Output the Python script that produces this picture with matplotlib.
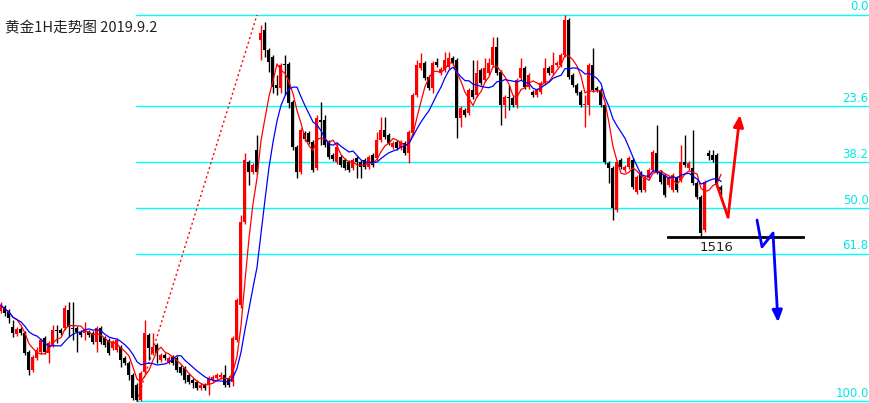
import matplotlib.pyplot as plt
import numpy as np
import pandas as pd

plt.rcParams['font.family'] = ['Noto Sans CJK SC', 'DejaVu Sans']

# -------------------------
# Dados (1H, ouro)
# -------------------------
opens = [1503.6, 1504.3, 1503.4, 1500.8, 1499.6, 1500.4, 1499.7, 1496.4, 1493.3, 1495.4,
         1496.4, 1498.9, 1496.2, 1497.6, 1500.3, 1500.3, 1500.6, 1503.8, 1500.6, 1500.6,
         1499.9, 1499.7, 1499.9, 1499.7, 1498.2, 1500.6, 1498.9, 1498.5, 1497.1, 1496.8,
         1497.3, 1495.4, 1494.5, 1492.4, 1490.6, 1488.0, 1492.9, 1499.4, 1496.2, 1497.6,
         1495.0, 1495.9, 1494.7, 1495.5, 1495.4, 1493.8, 1493.6, 1492.4, 1491.5, 1491.2,
         1490.1, 1490.6, 1490.6, 1491.5, 1491.9, 1492.0, 1492.4, 1491.9, 1491.2, 1498.5,
         1504.6, 1519.2, 1529.7, 1527.9, 1531.8, 1551.0, 1552.8, 1549.3, 1548.0, 1543.1,
         1542.6, 1546.8, 1546.8, 1540.2, 1532.3, 1527.9, 1534.7, 1534.7, 1533.2, 1528.6,
         1537.0, 1537.0, 1533.2, 1530.9, 1529.7, 1530.5, 1530.0, 1529.7, 1528.6, 1530.4,
         1529.7, 1530.0, 1528.8, 1530.9, 1530.4, 1533.5, 1535.3, 1534.4, 1532.3, 1533.2,
         1532.1, 1533.0, 1531.2, 1534.7, 1541.4, 1546.1, 1547.0, 1544.5, 1542.6, 1547.2,
         1545.2, 1545.8, 1546.3, 1547.9, 1547.5, 1537.4, 1538.8, 1538.2, 1542.3, 1541.4,
         1545.8, 1544.0, 1545.2, 1546.6, 1549.8, 1545.4, 1539.6, 1541.0, 1540.9, 1539.6,
         1544.4, 1546.1, 1542.8, 1541.9, 1541.4, 1541.9, 1543.5, 1546.1, 1545.2, 1546.6,
         1546.6, 1548.4, 1554.5, 1544.9, 1543.1, 1541.9, 1539.6, 1539.6, 1546.6, 1542.6,
         1542.3, 1539.6, 1529.5, 1528.6, 1521.3, 1530.0, 1528.3, 1528.8, 1530.0, 1524.4,
         1527.7, 1524.8, 1526.9, 1528.3, 1531.2, 1527.9, 1527.4, 1525.6, 1524.8, 1526.9,
         1526.5, 1529.7, 1528.6, 1528.6, 1526.0, 1523.5, 1517.8, 1531.2, 1530.9, 1530.9,
         1525.3]
closes = [1504.6, 1503.2, 1502.4, 1499.7, 1500.4, 1499.7, 1496.2, 1493.3, 1495.5, 1496.8,
          1498.5, 1496.4, 1498.0, 1500.3, 1500.1, 1499.7, 1504.1, 1500.8, 1500.4, 1499.9,
          1499.4, 1500.3, 1499.4, 1498.2, 1500.6, 1498.2, 1497.6, 1496.2, 1498.2, 1498.5,
          1495.0, 1494.5, 1492.4, 1488.4, 1488.0, 1492.7, 1499.7, 1497.1, 1497.3, 1496.2,
          1495.9, 1495.4, 1495.4, 1494.5, 1493.3, 1492.7, 1491.5, 1491.2, 1491.0, 1490.1,
          1490.6, 1490.1, 1491.9, 1492.0, 1492.4, 1492.4, 1490.6, 1490.6, 1498.9, 1505.5,
          1519.2, 1530.0, 1527.9, 1529.1, 1527.9, 1552.2, 1549.3, 1547.2, 1542.8, 1542.6,
          1546.6, 1546.6, 1540.0, 1532.3, 1527.9, 1535.3, 1533.7, 1533.2, 1528.3, 1537.4,
          1536.7, 1532.6, 1530.5, 1530.2, 1532.3, 1529.1, 1528.6, 1528.3, 1530.0, 1529.7,
          1528.8, 1528.8, 1530.5, 1529.1, 1533.5, 1535.3, 1534.0, 1533.0, 1533.0, 1532.1,
          1533.2, 1531.2, 1534.9, 1541.4, 1546.6, 1547.0, 1544.4, 1542.6, 1547.0, 1546.6,
          1545.9, 1547.5, 1547.9, 1547.0, 1537.4, 1539.1, 1537.9, 1542.3, 1541.0, 1545.2,
          1543.5, 1546.1, 1547.0, 1549.8, 1545.2, 1539.6, 1541.0, 1540.9, 1539.6, 1544.0,
          1546.1, 1542.8, 1544.9, 1541.4, 1542.3, 1543.5, 1546.1, 1545.2, 1546.6, 1547.0,
          1548.4, 1554.5, 1544.5, 1543.1, 1541.7, 1539.6, 1539.8, 1546.6, 1542.3, 1542.3,
          1539.6, 1529.7, 1528.6, 1521.6, 1529.7, 1528.8, 1528.8, 1530.4, 1525.3, 1527.0,
          1524.8, 1526.9, 1528.3, 1531.4, 1527.9, 1526.2, 1523.9, 1526.9, 1527.4, 1524.8,
          1529.7, 1529.1, 1529.5, 1526.0, 1523.5, 1517.2, 1526.2, 1530.7, 1530.0, 1525.6,
          1524.8]
highs = [1505.2, 1504.6, 1503.9, 1502.0, 1500.8, 1500.8, 1500.1, 1496.8, 1495.9, 1497.3,
         1498.9, 1499.2, 1498.3, 1501.1, 1501.1, 1500.6, 1504.6, 1505.2, 1505.2, 1501.0,
         1500.3, 1501.7, 1500.3, 1500.1, 1501.0, 1501.0, 1499.2, 1498.9, 1498.5, 1498.9,
         1497.6, 1495.7, 1494.8, 1492.7, 1491.0, 1493.1, 1502.0, 1499.7, 1499.7, 1498.0,
         1496.2, 1496.2, 1495.7, 1495.9, 1495.7, 1494.1, 1494.0, 1492.7, 1491.9, 1491.5,
         1491.0, 1491.0, 1492.2, 1492.4, 1492.7, 1492.9, 1494.1, 1492.2, 1499.2, 1505.9,
         1520.4, 1531.2, 1530.0, 1529.5, 1534.4, 1553.6, 1554.2, 1549.6, 1548.4, 1544.9,
         1547.0, 1548.4, 1547.2, 1540.5, 1532.6, 1535.6, 1535.1, 1535.1, 1533.5, 1537.9,
         1540.2, 1537.9, 1533.5, 1531.2, 1533.0, 1530.9, 1530.4, 1530.0, 1530.4, 1530.7,
         1530.0, 1530.4, 1530.9, 1531.2, 1534.9, 1537.5, 1537.5, 1534.7, 1533.3, 1533.5,
         1533.5, 1533.3, 1535.3, 1541.7, 1547.5, 1548.7, 1547.3, 1544.9, 1547.3, 1547.9,
         1546.3, 1548.9, 1548.9, 1548.2, 1547.9, 1539.5, 1539.1, 1542.6, 1547.5, 1547.5,
         1546.1, 1547.9, 1547.9, 1551.5, 1551.5, 1545.8, 1541.4, 1543.1, 1541.2, 1544.4,
         1547.9, 1546.5, 1545.2, 1542.3, 1542.6, 1543.8, 1547.9, 1546.5, 1548.9, 1547.3,
         1548.7, 1555.4, 1554.9, 1545.2, 1543.5, 1542.3, 1541.4, 1547.0, 1549.6, 1543.0,
         1542.6, 1540.0, 1529.8, 1529.0, 1530.0, 1530.4, 1529.1, 1530.7, 1530.4, 1527.4,
         1528.1, 1527.2, 1528.6, 1531.8, 1536.1, 1528.3, 1527.7, 1527.2, 1527.7, 1527.2,
         1532.6, 1534.4, 1529.8, 1535.3, 1526.3, 1523.9, 1526.5, 1531.8, 1531.8, 1531.2,
         1525.6]
lows = [1503.2, 1502.7, 1501.5, 1499.0, 1499.2, 1499.4, 1495.9, 1492.4, 1492.9, 1495.0,
        1496.1, 1496.1, 1494.5, 1497.3, 1498.0, 1499.4, 1500.3, 1499.0, 1498.5, 1496.4,
        1499.0, 1498.5, 1499.0, 1497.8, 1496.4, 1497.8, 1497.3, 1495.9, 1496.8, 1496.4,
        1493.8, 1494.1, 1491.5, 1488.0, 1487.8, 1487.8, 1492.6, 1495.0, 1495.9, 1494.5,
        1494.7, 1495.0, 1494.3, 1494.1, 1492.9, 1492.4, 1491.0, 1490.8, 1490.1, 1489.8,
        1489.8, 1489.8, 1488.9, 1491.2, 1491.5, 1491.7, 1490.3, 1490.3, 1490.5, 1498.2,
        1504.1, 1518.8, 1525.6, 1527.6, 1527.6, 1547.5, 1548.0, 1545.4, 1541.7, 1541.4,
        1541.7, 1541.4, 1539.1, 1531.8, 1526.9, 1527.6, 1533.3, 1532.8, 1527.9, 1528.3,
        1532.6, 1532.3, 1530.2, 1529.8, 1529.3, 1528.8, 1528.3, 1527.9, 1528.3, 1526.9,
        1526.9, 1528.4, 1528.4, 1528.8, 1530.0, 1533.2, 1533.7, 1532.6, 1531.9, 1531.8,
        1531.8, 1530.9, 1529.5, 1534.4, 1541.0, 1545.8, 1544.0, 1542.3, 1541.7, 1546.3,
        1544.9, 1545.4, 1545.9, 1546.6, 1533.9, 1535.8, 1537.5, 1537.9, 1540.7, 1541.0,
        1543.1, 1543.7, 1544.9, 1546.3, 1544.9, 1536.1, 1537.4, 1538.8, 1539.3, 1539.1,
        1544.0, 1542.4, 1542.4, 1541.0, 1541.0, 1541.6, 1543.1, 1544.9, 1544.9, 1546.3,
        1546.3, 1548.0, 1544.2, 1542.8, 1541.4, 1539.3, 1535.8, 1537.9, 1541.9, 1541.9,
        1539.3, 1529.3, 1526.0, 1519.5, 1520.9, 1528.4, 1527.9, 1528.4, 1524.9, 1524.1,
        1524.4, 1524.4, 1526.5, 1527.9, 1527.6, 1525.8, 1523.5, 1525.3, 1524.4, 1524.4,
        1526.2, 1528.8, 1528.3, 1525.6, 1523.2, 1516.5, 1517.4, 1530.0, 1529.7, 1525.3,
        1523.9]

fib_pcts = [0.0, 23.6, 38.2, 50.0, 61.8, 100.0]
fib_low = 1487.8      # âncora baixa (candle 34)
fib_high = 1555.4     # âncora alta (candle 64)
fib_low_idx = 34
fib_high_idx = 64

suporte = 1516.5
suporte_label = "1516"
suporte_x = [166.75, 200.5]

# setas desenhadas à mão (índice do candle, preço)
seta_alta_x = [179.0, 181.75, 184.75]
seta_alta_y = [1525.6, 1520.0, 1537.9]
seta_baixa_x = [189.0, 190.25, 193.0, 194.25]
seta_baixa_y = [1519.5, 1514.8, 1517.2, 1501.6]

titulo = "黄金1H走势图 2019.9.2"

# -------------------------
# Gráfico
# -------------------------
o = np.array(opens)
c = np.array(closes)
h = np.array(highs)
l = np.array(lows)
idx = np.arange(len(c))

fig = plt.figure(figsize=(8.7, 4.03), dpi=100)
ax = fig.add_axes([0, 0, 1, 1])
ax.set_axis_off()
ax.set_xlim(-0.25, 217.25)
ax.set_ylim(1487.475, 1558.0)

# linhas de Fibonacci
rng = fib_high - fib_low
for p in fib_pcts:
    lvl = fib_high - p / 100 * rng
    ax.plot([fib_low_idx - 0.25, 217.25], [lvl, lvl], color='#00ffff', lw=1.0, zorder=1)
    ax.text(216.9, lvl + 0.25, f"{p:.1f}", color='#00e8e8', fontsize=8.5,
            ha='right', va='bottom', family='DejaVu Sans', zorder=5)

# linha pontilhada da retração
ax.plot([fib_low_idx, fib_high_idx], [fib_low, fib_high], color='red', lw=1.0,
        linestyle=(0, (1.5, 2)), zorder=2)

# candles
up = c >= o
cores = np.where(up, 'red', 'black')
ax.vlines(idx, l, h, colors=cores, lw=1.0, zorder=3)
body_bot = np.minimum(o, c)
body_h = np.maximum(np.abs(c - o), 0.18)
ax.bar(idx, body_h, bottom=body_bot, width=0.75, color=cores, linewidth=0, zorder=3)

# médias móveis
s = pd.Series(c)
ma5 = s.rolling(5, min_periods=1).mean()
ma10 = s.rolling(10, min_periods=1).mean()
ax.plot(idx, ma5, color='red', lw=0.9, zorder=4)
ax.plot(idx, ma10, color='blue', lw=0.9, zorder=4)

# suporte
ax.plot(suporte_x, [suporte, suporte], color='black', lw=2.0, zorder=4)
ax.text(178.8, suporte - 0.6, suporte_label, color='#222222', fontsize=9.5,
        ha='center', va='top', family='DejaVu Sans')

# setas
ax.plot(seta_alta_x[:-1], seta_alta_y[:-1], color='red', lw=2.0, zorder=5,
        solid_capstyle='round')
ax.annotate('', xy=(seta_alta_x[-1], seta_alta_y[-1]), xytext=(seta_alta_x[-2], seta_alta_y[-2]),
            arrowprops=dict(arrowstyle='-|>,head_length=0.7,head_width=0.3',
                            color='red', lw=2.0, shrinkA=0, shrinkB=0), zorder=5)
ax.plot(seta_baixa_x[:-1], seta_baixa_y[:-1], color='blue', lw=2.0, zorder=5,
        solid_capstyle='round')
ax.annotate('', xy=(seta_baixa_x[-1], seta_baixa_y[-1]), xytext=(seta_baixa_x[-2], seta_baixa_y[-2]),
            arrowprops=dict(arrowstyle='-|>,head_length=0.7,head_width=0.3',
                            color='blue', lw=2.0, shrinkA=0, shrinkB=0), zorder=5)

# título
fig.text(0.006, 0.93, titulo, fontsize=10.5, color='#222222', ha='left', va='center')

fig.savefig('out.png', dpi=100)
